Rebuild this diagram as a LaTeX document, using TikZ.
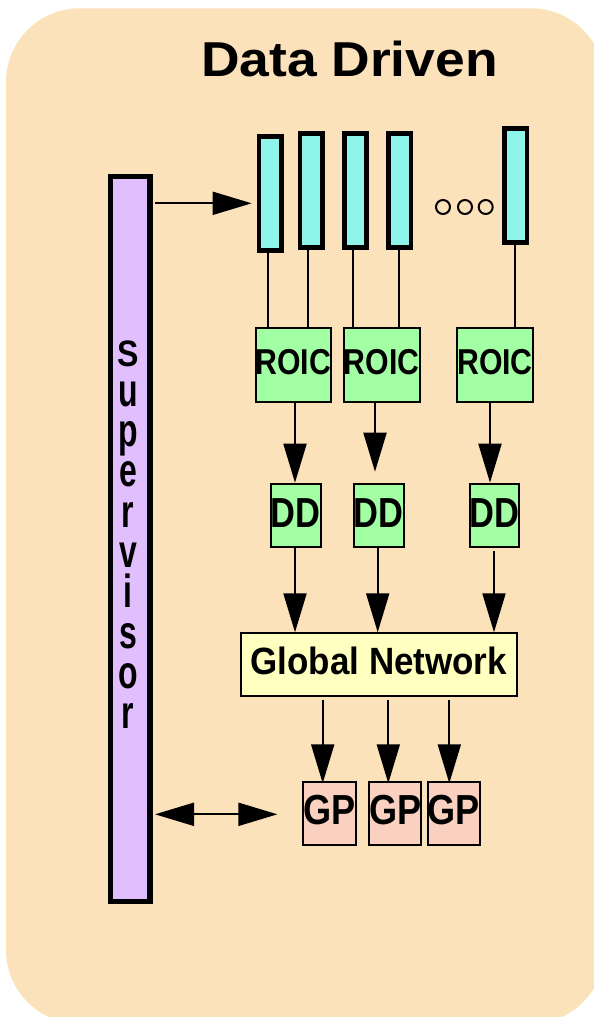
\documentclass[tikz,border=0pt]{standalone}
\usepackage{fontspec}
\setmainfont{Liberation Sans}
\usepackage{graphicx}
\usetikzlibrary{arrows.meta}

\definecolor{paper}{RGB}{252,226,187}
\definecolor{supfill}{RGB}{225,191,255}
\definecolor{detfill}{RGB}{143,245,234}
\definecolor{roicfill}{RGB}{163,255,163}
\definecolor{netfill}{RGB}{255,255,192}
\definecolor{gpfill}{RGB}{250,208,192}

% condensed bold label: horizontal factor, size, text
\newcommand{\boxtext}[3]{\scalebox{#1}[1]{\fontsize{#2}{#2}\selectfont\bfseries #3}}
% tall letter for the vertical caption
\newcommand{\tall}[2]{\scalebox{1}[#1]{#2}}

\begin{document}
\begin{tikzpicture}[x=1pt,y=-1pt,
  sensor/.style={draw, line width=4.7pt, fill=detfill, inner sep=0pt,
    minimum width=22.6pt, minimum height=114.3pt},
  unit/.style={draw, line width=2pt, inner sep=0pt},
  roic/.style={unit, fill=roicfill, minimum width=71.3pt, minimum height=74pt, text depth=6pt},
  ddbox/.style={unit, fill=roicfill, minimum width=43pt, minimum height=63.6pt, text depth=4.4pt},
  gpbox/.style={unit, fill=gpfill, minimum width=43.6pt, minimum height=63.3pt, text depth=7.6pt},
  netbox/.style={unit, fill=netfill, minimum width=275.7pt, minimum height=62.4pt, text depth=6.7pt},
  link/.style={line width=2pt},
  flow/.style={line width=2pt, -{Triangle[length=39pt,width=23pt]}},
  both/.style={line width=2pt, {Triangle[length=39pt,width=23pt]}-{Triangle[length=39pt,width=23pt]}},
  dotring/.style={circle, draw, line width=2pt, inner sep=0pt, minimum size=14pt}
]
\useasboundingbox (0,0) rectangle (594,1017);

% panel
\fill[paper, rounded corners=73.7pt] (6,8.3) rectangle (604.7,1023.7);

% title
\node[anchor=base, inner sep=0pt] (title) at (349.5,76.7) {\boxtext{1.09}{49}{Data Driven}};

% supervisor bar with its vertical caption
\node[draw, line width=5.3pt, fill=supfill, inner sep=0pt,
  minimum width=39.3pt, minimum height=725pt] (sup) at (130.3,539.2) {};
\node[anchor=north, inner sep=0pt, align=center,
  font=\fontsize{32}{40.3}\selectfont\bfseries] (caption) at (128,340.1)
  {\tall{1.15}{S}\\ \tall{1.45}{u}\\ \tall{1.45}{p}\\ \tall{1.45}{e}\\ \tall{1.45}{r}\\
   \tall{1.45}{v}\\ \tall{1.45}{i}\\ \tall{1.45}{s}\\ \tall{1.45}{o}\\ \tall{1.45}{r}};

% detector strips
\node[sensor] (s1) at (270.3,193.3) {};
\node[sensor] (s2) at (311.3,190.3) {};
\node[sensor] (s3) at (355.5,190.3) {};
\node[sensor] (s4) at (399.7,190.3) {};
\node[sensor] (s5) at (515.8,185.3) {};
\node[dotring] (e1) at (443,207) {};
\node[dotring] (e2) at (465,207) {};
\node[dotring] (e3) at (485.7,207) {};

% readout chips
\node[roic] (r1) at (293.3,365.3) {\boxtext{0.84}{36}{ROIC}};
\node[roic] (r2) at (381.7,365.3) {\boxtext{0.84}{36}{ROIC}};
\node[roic] (r3) at (495,365.3) {\boxtext{0.84}{36}{ROIC}};

% data-driven units
\node[ddbox] (d1) at (295.8,515.5) {\boxtext{0.82}{42}{DD}};
\node[ddbox] (d2) at (378.7,515.5) {\boxtext{0.82}{42}{DD}};
\node[ddbox] (d3) at (494.5,515.5) {\boxtext{0.82}{42}{DD}};

% network
\node[netbox] (gn) at (378.8,664.5) {\boxtext{0.92}{38}{Global Network}};

% general processors
\node[gpbox] (g1) at (329.5,813.3) {\boxtext{0.86}{42}{GP}};
\node[gpbox] (g2) at (395.3,813.3) {\boxtext{0.86}{42}{GP}};
\node[gpbox] (g3) at (453.8,813.3) {\boxtext{0.86}{42}{GP}};

% strips to chips
\draw[link] ([xshift=-2.6pt]s1.south) -- ([xshift=-2.6pt]s1.south |- r1.north);
\draw[link] ([xshift=-3.3pt]s2.south) -- ([xshift=-3.3pt]s2.south |- r1.north);
\draw[link] ([xshift=-2.8pt]s3.south) -- ([xshift=-2.8pt]s3.south |- r2.north);
\draw[link] ([xshift=-0.4pt]s4.south) -- ([xshift=-0.4pt]s4.south |- r2.north);
\draw[link] ([xshift=-0.8pt]s5.south) -- ([xshift=-0.8pt]s5.south |- r3.north);

% chips to DD units
\draw[flow] ([xshift=-0.8pt]d1.north |- r1.south) -- ([xshift=-0.8pt]d1.north);
\draw[flow] ([xshift=-3.7pt]d2.north |- r2.south) -- ([xshift=-3.7pt,yshift=11pt]d2.north);
\draw[flow] ([xshift=-4.5pt]d3.north |- r3.south) -- ([xshift=-4.5pt]d3.north);

% DD units to network
\draw[flow] ([xshift=-0.8pt]d1.south) -- ([xshift=-0.8pt]d1.south |- gn.north);
\draw[flow] ([xshift=-1pt]d2.south) -- ([xshift=-1pt]d2.south |- gn.north);
\draw[flow, shorten <=3pt] ([xshift=-0.5pt]d3.south) -- ([xshift=-0.5pt]d3.south |- gn.north);

% network to processors
\draw[flow, shorten <=3pt] ([xshift=-6.8pt]g1.north |- gn.south) -- ([xshift=-6.8pt,yshift=-2.6pt]g1.north);
\draw[flow, shorten <=3pt] ([xshift=-7pt]g2.north |- gn.south) -- ([xshift=-7pt,yshift=-2.6pt]g2.north);
\draw[flow, shorten <=3pt] ([xshift=-4.5pt]g3.north |- gn.south) -- ([xshift=-4.5pt,yshift=-2.6pt]g3.north);

% supervisor links
\coordinate (toprow) at (0,203.3);
\coordinate (gprow) at (0,814.3);
\draw[flow, shorten <=2.4pt, shorten >=5pt] (sup.east |- toprow) -- (s1.west |- toprow);
\draw[both, shorten <=2.4pt, shorten >=25pt] (sup.east |- gprow) -- (g1.west |- gprow);
\end{tikzpicture}
\end{document}
